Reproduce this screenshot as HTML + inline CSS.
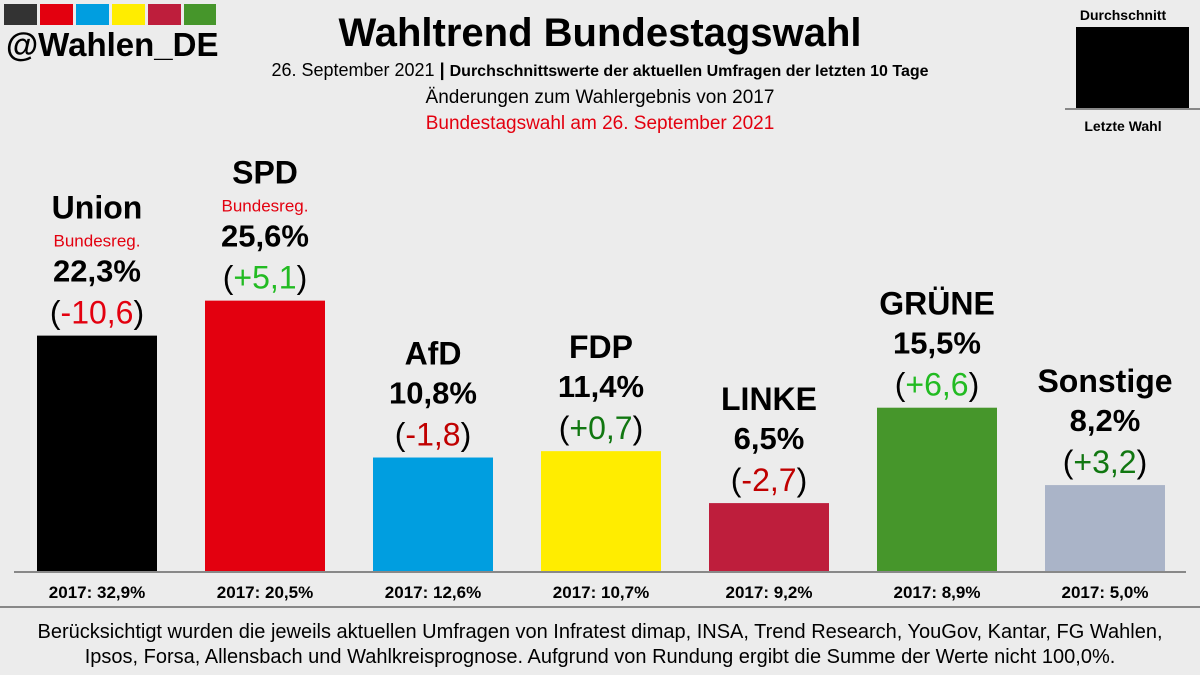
<!DOCTYPE html>
<html><head><meta charset="utf-8">
<style>
body{margin:0;width:1200px;height:675px;background:#ececec;overflow:hidden;font-family:"Liberation Sans",sans-serif;}
svg{display:block}
</style></head>
<body>
<svg id="c" width="1200" height="675" xmlns="http://www.w3.org/2000/svg">
  <g>
    <rect x="4" y="4" width="33" height="21" fill="#333"/>
    <rect x="40" y="4" width="33" height="21" fill="#e3000f"/>
    <rect x="76" y="4" width="33" height="21" fill="#009ee0"/>
    <rect x="112" y="4" width="33" height="21" fill="#ffed00"/>
    <rect x="148" y="4" width="33" height="21" fill="#be1e3c"/>
    <rect x="184" y="4" width="32" height="21" fill="#46962b"/>
    <text x="6" y="56" font-size="33" font-weight="bold" fill="#000">@Wahlen_DE</text>
  </g>
  <text x="600" y="46" text-anchor="middle" font-size="40" font-weight="bold">Wahltrend Bundestagswahl</text>
  <text x="600" y="76" text-anchor="middle" font-size="18">26. September 2021 <tspan font-weight="bold">| </tspan><tspan font-weight="bold" font-size="16">Durchschnittswerte der aktuellen Umfragen der letzten 10 Tage</tspan></text>
  <text x="600" y="103" text-anchor="middle" font-size="19">Änderungen zum Wahlergebnis von 2017</text>
  <text x="600" y="129" text-anchor="middle" font-size="19" fill="#e3000f">Bundestagswahl am 26. September 2021</text>
  <g>
    <text x="1123" y="20" text-anchor="middle" font-size="14" font-weight="bold">Durchschnitt</text>
    <rect x="1076" y="27" width="113" height="82" fill="#000"/>
    <line x1="1065" y1="109" x2="1200" y2="109" stroke="#888" stroke-width="2"/>
    <text x="1123" y="131" text-anchor="middle" font-size="14" font-weight="bold">Letzte Wahl</text>
  </g>
  <g id="bars"></g>
  <line x1="14" y1="572" x2="1186" y2="572" stroke="#888" stroke-width="2"/>
  <line x1="0" y1="607" x2="1200" y2="607" stroke="#888" stroke-width="2"/>
  <text x="600" y="638" text-anchor="middle" font-size="20">Berücksichtigt wurden die jeweils aktuellen Umfragen von Infratest dimap, INSA, Trend Research, YouGov, Kantar, FG Wahlen,</text>
  <text x="600" y="663" text-anchor="middle" font-size="20">Ipsos, Forsa, Allensbach und Wahlkreisprognose. Aufgrund von Rundung ergibt die Summe der Werte nicht 100,0%.</text>
</svg>
<script>
const parties=["Union","SPD","AfD","FDP","LINKE","GRÜNE","Sonstige"];
const values=[22.3,25.6,10.8,11.4,6.5,15.5,8.2];
const changes=["-10,6","+5,1","-1,8","+0,7","-2,7","+6,6","+3,2"];
const prev=["32,9","20,5","12,6","10,7","9,2","8,9","5,0"];
const govt=[true,true,false,false,false,false,false];
const colors=["#000000","#e3000f","#009ee0","#ffed00","#be1e3c","#46962b","#aab4c8"];
const changeColors=["#e3000f","#22bb22","#c00000","#117711","#c00000","#22bb22","#117711"];
const NS="http://www.w3.org/2000/svg";
const g=document.getElementById("bars");
const base=572, scale=10.6, x0=37, step=168, bw=120;
const y=v=>base-v*scale;
const fmt=v=>v.toFixed(1).replace(".",",")+"%";
function t(x,yy,s,size,weight,fill){const e=document.createElementNS(NS,"text");e.setAttribute("x",x);e.setAttribute("y",yy);e.setAttribute("text-anchor","middle");e.setAttribute("font-size",size);if(weight)e.setAttribute("font-weight",weight);e.setAttribute("fill",fill||"#000");e.textContent=s;g.appendChild(e);return e;}
parties.forEach((p,i)=>{
  const x=x0+i*step, top=y(values[i]), cx=x+bw/2;
  const r=document.createElementNS(NS,"rect");
  r.setAttribute("x",x);r.setAttribute("y",top);r.setAttribute("width",bw);r.setAttribute("height",base-top);r.setAttribute("fill",colors[i]);
  
  
  g.appendChild(r);
  const n=t(cx,govt[i]?top-117:top-93,p,32,"bold");
  
  
  if(govt[i]){const b=t(cx,top-89,"Bundesreg.",17,null,"#e3000f");
    
    }
  const pc=t(cx,top-54,fmt(values[i]),31,"bold");
  
  
  const c=t(cx,top-12,"",32);
  
  
  const s1=document.createElementNS(NS,"tspan");s1.textContent="(";c.appendChild(s1);
  const s2=document.createElementNS(NS,"tspan");s2.setAttribute("fill",changeColors[i]);s2.textContent=changes[i];c.appendChild(s2);
  const s3=document.createElementNS(NS,"tspan");s3.textContent=")";c.appendChild(s3);
  const pv=t(cx,598,"2017: "+prev[i]+"%",17,"bold");
  
  
});
</script>
</body></html>
